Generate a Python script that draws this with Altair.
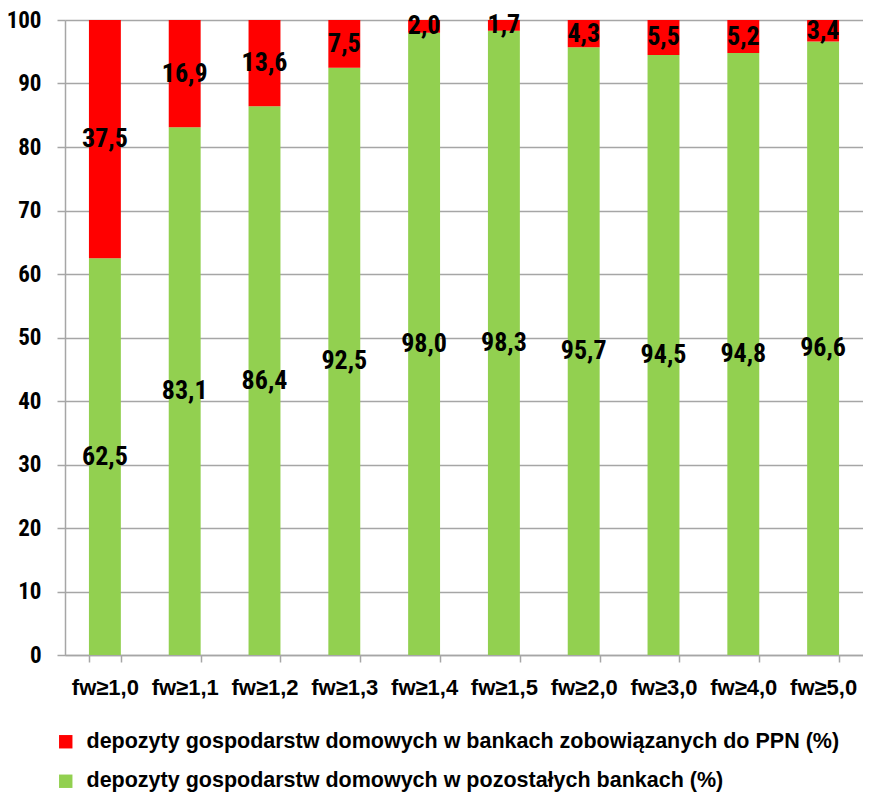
import altair as alt
import pandas as pd

categories = ["fw≥1,0", "fw≥1,1", "fw≥1,2", "fw≥1,3", "fw≥1,4",
              "fw≥1,5", "fw≥2,0", "fw≥3,0", "fw≥4,0", "fw≥5,0"]
red_values = [37.5, 16.9, 13.6, 7.5, 2.0, 1.7, 4.3, 5.5, 5.2, 3.4]
green_values = [62.5, 83.1, 86.4, 92.5, 98.0, 98.3, 95.7, 94.5, 94.8, 96.6]
red_name = "depozyty gospodarstw domowych w bankach zobowiązanych do PPN (%)"
green_name = "depozyty gospodarstw domowych w pozostałych bankach (%)"
y_ticks = list(range(0, 101, 10))

rows = []
for c, g, r in zip(categories, green_values, red_values):
    rows.append({"cat": c, "series": green_name, "value": g, "order": 0,
                 "label": f"{g:.1f}".replace(".", ",")})
    rows.append({"cat": c, "series": red_name, "value": r, "order": 1,
                 "label": f"{r:.1f}".replace(".", ",")})
df = pd.DataFrame(rows)

NARROW = "Roboto Condensed, Liberation Sans Narrow, Arial Narrow, sans-serif"
WIDE = "Liberation Sans, Arial, sans-serif"
GRID = "#a6a6a6"

base = alt.Chart(df).transform_stack(
    stack="value", groupby=["cat"], as_=["y0", "y1"],
    sort=[alt.SortField("order", order="ascending")]
).transform_calculate(mid="(datum.y0 + datum.y1) / 2")

xenc = alt.X("cat:N", sort=categories, title=None,
             scale=alt.Scale(paddingInner=0.6, paddingOuter=0.3),
             axis=alt.Axis(labelAngle=0, labelFont=WIDE, labelFontSize=22,
                           labelFontWeight="bold", labelColor="#000000",
                           tickBand="extent", tickSize=7, tickColor=GRID,
                           tickWidth=1.5, domainColor=GRID, domainWidth=1.5,
                           labelPadding=15, grid=False))

bars = base.mark_bar().encode(
    x=xenc,
    y=alt.Y("y0:Q", title=None,
            scale=alt.Scale(domain=[0, 100], nice=False),
            axis=alt.Axis(values=y_ticks, labelFont=NARROW, labelFontSize=23,
                          labelFontWeight="bold", labelColor="#000000",
                          tickSize=8, tickColor=GRID, tickWidth=1.5,
                          gridColor=GRID, gridWidth=1.5,
                          domainColor=GRID, domainWidth=1.5,
                          labelPadding=16)),
    y2="y1:Q",
    color=alt.Color("series:N",
                    scale=alt.Scale(domain=[red_name, green_name],
                                    range=["#FF0000", "#92D050"]),
                    legend=alt.Legend(title=None, orient="none",
                                      legendX=-10, legendY=711,
                                      direction="vertical",
                                      symbolType="square", symbolSize=180,
                                      symbolStrokeWidth=0,
                                      labelFont=WIDE, labelFontSize=21.5,
                                      labelFontWeight="bold",
                                      labelColor="#000000", labelLimit=900,
                                      rowPadding=16.5, padding=0,
                                      labelOffset=10)),
)

text = base.mark_text(font=NARROW, fontSize=26, fontWeight="bold",
                      color="#000000").encode(
    x=alt.X("cat:N", sort=categories),
    y=alt.Y("mid:Q"),
    text="label:N",
)

chart = alt.layer(bars, text).properties(
    width=798, height=635,
    autosize=alt.AutoSizeParams(type="none"),
    padding={"left": 57, "top": 12, "right": 0, "bottom": 137},
).configure_view(stroke=None).configure(background="#ffffff")

chart.save("out.html", embed_options={"renderer": "svg", "actions": False})
